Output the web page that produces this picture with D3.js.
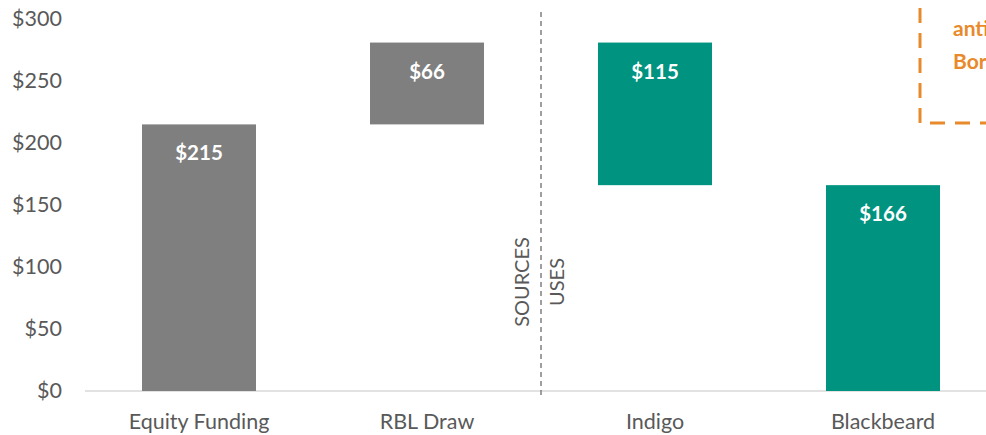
<!DOCTYPE html>
<html><head><meta charset="utf-8">
<script src="https://cdn.jsdelivr.net/npm/d3@7"></script>
<style>body{margin:0;background:#fff}svg{display:block}</style>
</head><body>
<script>
const categories = ["Equity Funding", "RBL Draw", "Indigo", "Blackbeard"];
const barStart = [0, 215, 166, 0];
const barEnd = [215, 281, 281, 166];
const barLabels = ["$215", "$66", "$115", "$166"];
const barGroup = ["source", "source", "use", "use"];
const yTicks = [0, 50, 100, 150, 200, 250, 300];
const calloutLines = ["anticipated", "Borrowing"];

const W = 986, H = 435;
const font = "Lato, 'Open Sans', sans-serif";
const svg = d3.select("body").append("svg").attr("width", W).attr("height", H);

const x = d3.scaleBand().domain(categories).range([85, 997]).paddingInner(0.5).paddingOuter(0.25);
const y = d3.scaleLinear().domain([0, 300]).range([391, 19]);
const color = d => d === "source" ? "#7F7F7F" : "#00937F";

// y axis labels
const yAxis = svg.append("g").attr("transform", "translate(62,0)")
  .call(d3.axisLeft(y).tickValues(yTicks).tickFormat(d => "$" + d).tickSize(0).tickPadding(0));
yAxis.select(".domain").remove();
yAxis.selectAll("text").attr("font-family", font).attr("font-size", 21.5).attr("fill", "#595959");

// baseline
svg.append("line").attr("x1", 85).attr("x2", W).attr("y1", y(0)).attr("y2", y(0))
  .attr("stroke", "#D9D9D9").attr("stroke-width", 1.5);

// x axis labels
const xAxis = svg.append("g").attr("transform", `translate(0,${y(0)})`)
  .call(d3.axisBottom(x).tickSize(0).tickPadding(23));
xAxis.select(".domain").remove();
xAxis.selectAll("text").attr("font-family", font).attr("font-size", 21.5).attr("fill", "#595959");

// bars
const data = categories.map((c, i) => ({c, s: barStart[i], e: barEnd[i], l: barLabels[i], g: barGroup[i]}));
svg.selectAll("rect.bar").data(data).join("rect").attr("class", "bar")
  .attr("x", d => x(d.c)).attr("width", x.bandwidth())
  .attr("y", d => y(d.e)).attr("height", d => y(d.s) - y(d.e))
  .attr("fill", d => color(d.g));
svg.selectAll("text.val").data(data).join("text").attr("class", "val")
  .attr("x", d => x(d.c) + x.bandwidth() / 2).attr("y", d => y(d.e) + 36)
  .attr("text-anchor", "middle").attr("font-family", font).attr("font-weight", "bold")
  .attr("font-size", 20.5).attr("fill", "#fff").text(d => d.l);

// divider
const divX = (x("RBL Draw") + x.bandwidth() + x("Indigo")) / 2;
svg.append("line").attr("x1", divX).attr("x2", divX).attr("y1", 12).attr("y2", 395)
  .attr("stroke", "#808080").attr("stroke-width", 1.5).attr("stroke-dasharray", "5,4");
svg.append("text").attr("transform", `translate(${divX - 12},282) rotate(-90)`)
  .attr("text-anchor", "middle").attr("font-family", font).attr("font-size", 20).attr("fill", "#595959").text("SOURCES");
svg.append("text").attr("transform", `translate(${divX + 23},282) rotate(-90)`)
  .attr("text-anchor", "middle").attr("font-family", font).attr("font-size", 20).attr("fill", "#595959").text("USES");

// callout box
svg.append("path").attr("d", "M920,8 V123 H1100")
  .attr("fill", "none").attr("stroke", "#E8892B").attr("stroke-width", 3)
  .attr("stroke-dasharray", "15,10");
svg.selectAll("text.call").data(calloutLines).join("text").attr("class", "call")
  .attr("x", 953).attr("y", (d, i) => 36 + i * 33)
  .attr("font-family", font).attr("font-weight", "bold").attr("font-size", 21).attr("fill", "#E8892B")
  .text(d => d);
</script>
</body></html>
